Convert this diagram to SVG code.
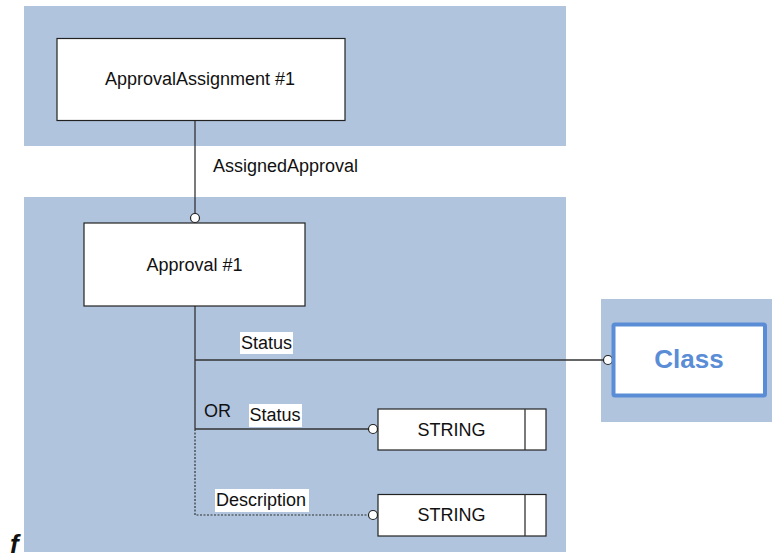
<svg xmlns="http://www.w3.org/2000/svg" width="772" height="559" viewBox="0 0 772 559">
<style>
.band{fill:#b0c4de}
.box{fill:#fff;stroke:#222;stroke-width:1.2}
.t{font-family:"Liberation Sans",Arial,sans-serif;font-size:18px;fill:#111}
.c{text-anchor:middle}
.ln{fill:none;stroke:#333;stroke-width:1.3}
.dot{fill:none;stroke:#333;stroke-width:1.2;stroke-dasharray:2 1.5}
.end{fill:#fff;stroke:#222;stroke-width:1.2}
.lbl{fill:#fff}
</style>
<rect class="band" x="24" y="6" width="542" height="140"/>
<rect class="band" x="24" y="197" width="542" height="355"/>
<rect class="band" x="601" y="299" width="171" height="123"/>
<g id="connectors">
<path class="ln" d="M195 121 V214"/>
<circle class="end" cx="195" cy="218" r="4.5"/>
<text class="t" x="213" y="172">AssignedApproval</text>
<path class="ln" d="M195 306 V429"/>
<path class="ln" d="M195 360 H603.5"/>
<circle class="end" cx="608" cy="360" r="4.5"/>
<rect class="lbl" x="240" y="332" width="53" height="22"/>
<text class="t" x="241" y="349">Status</text>
<text class="t" x="204" y="417">OR</text>
<path class="ln" d="M195 429 H368.5"/>
<circle class="end" cx="373" cy="429" r="4.5"/>
<rect class="lbl" x="249" y="404" width="53" height="23"/>
<text class="t" x="249.5" y="421">Status</text>
<path class="dot" d="M195 429 V515 H368.5"/>
<circle class="end" cx="373" cy="515" r="4.5"/>
<rect class="lbl" x="215" y="489" width="94" height="23"/>
<text class="t" x="216" y="506">Description</text>
</g>
<g id="approvalAssignment">
<rect class="box" x="57" y="38.5" width="288" height="82"/>
<text class="t c" x="200" y="85">ApprovalAssignment #1</text>
</g>
<g id="approval">
<rect class="box" x="84" y="223" width="221" height="83"/>
<text class="t c" x="194.5" y="271">Approval #1</text>
</g>
<g id="string1">
<rect class="box" x="378" y="409" width="168" height="41"/>
<path class="ln" d="M525 409 V450"/>
<text class="t c" x="451.5" y="435.5">STRING</text>
</g>
<g id="string2">
<rect class="box" x="378" y="494.5" width="168" height="41.5"/>
<path class="ln" d="M525 494.5 V536"/>
<text class="t c" x="451.5" y="521">STRING</text>
</g>
<g id="class">
<rect x="613.5" y="324.5" width="151.5" height="71" rx="1.5" fill="#fff" stroke="#5a8dd6" stroke-width="4"/>
<text x="689" y="367.5" text-anchor="middle" font-family="'Liberation Sans',Arial,sans-serif" font-size="26" font-weight="bold" fill="#5a8dd6">Class</text>
</g>
<text x="10" y="553" font-family="'Liberation Sans',Arial,sans-serif" font-size="26" font-weight="bold" font-style="italic" fill="#111">f</text>
</svg>
